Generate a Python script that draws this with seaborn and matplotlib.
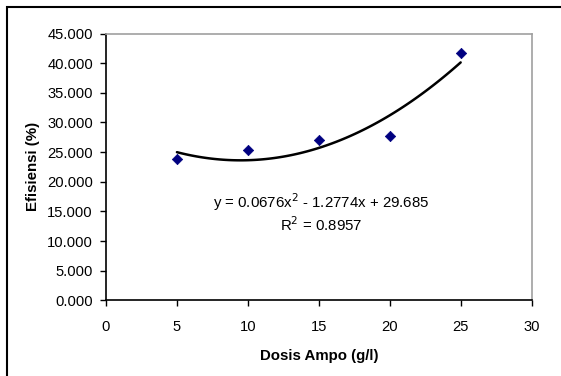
import matplotlib
matplotlib.use('Agg')

import matplotlib.pyplot as plt
import matplotlib.patches as mpatches
from matplotlib.ticker import FormatStrFormatter
import seaborn as sns
import pandas as pd
import numpy as np

# data
dosis = [5, 10, 15, 20, 25]
efisiensi = [23.9, 25.35, 27.03, 27.7, 41.65]
x_ticks = [0, 5, 10, 15, 20, 25, 30]
y_ticks = [0, 5, 10, 15, 20, 25, 30, 35, 40, 45]

df = pd.DataFrame({'dosis': dosis, 'efisiensi': efisiensi})

sns.set_style("white")
plt.rcParams['font.family'] = ['Liberation Sans', 'DejaVu Sans']
plt.rcParams['text.color'] = 'black'
plt.rcParams['axes.labelcolor'] = 'black'
plt.rcParams['xtick.color'] = 'black'
plt.rcParams['ytick.color'] = 'black'

fig = plt.figure(figsize=(5.61, 3.76), dpi=100)
ax = fig.add_axes([106/561, 1 - 300.3/376, (531.6-106)/561, (300.3-33.5)/376])

# polynomial trendline (order 2) like excel
coef = np.polyfit(df['dosis'], df['efisiensi'], 2)
xs = np.linspace(min(dosis), max(dosis), 100)
trend = pd.DataFrame({'x': xs, 'y': np.polyval(coef, xs)})
sns.lineplot(data=trend, x='x', y='y', ax=ax, color='black', linewidth=1.8)

sns.scatterplot(data=df, x='dosis', y='efisiensi', ax=ax, marker='D',
                color='#000080', s=28, edgecolor='#000080', linewidth=0.5, zorder=5)

ax.set_xlim(0, 30)
ax.set_ylim(0, 45)
ax.set_xticks(x_ticks)
ax.set_yticks(y_ticks)
ax.yaxis.set_major_formatter(FormatStrFormatter('%.3f'))
ax.tick_params(axis='both', direction='out', length=4, width=1, color='black',
               labelsize=10.6, bottom=True, left=True)
ax.tick_params(axis='x', pad=10)
ax.tick_params(axis='y', pad=5.4)

for side in ['left', 'bottom']:
    ax.spines[side].set_color('black')
    ax.spines[side].set_linewidth(1.2)
for side in ['top', 'right']:
    ax.spines[side].set_color('#a0a0a0')
    ax.spines[side].set_linewidth(1.2)

ax.set_xlabel('Dosis Ampo (g/l)', fontsize=10.8, fontweight='bold', labelpad=11)
ax.set_ylabel('Efisiensi (%)', fontsize=10.8, fontweight='bold', labelpad=5)

ax.text(0.505, 0.367, 'y = 0.0676x$^2$ - 1.2774x + 29.685', transform=ax.transAxes,
        ha='center', va='center', fontsize=10.8)
ax.text(0.505, 0.282, 'R$^2$ = 0.8957', transform=ax.transAxes,
        ha='center', va='center', fontsize=10.8)

# outer chart border
fig.patches.append(mpatches.Rectangle((7/561, -0.05), 1.1, 1 - 7/376 + 0.05,
                                      transform=fig.transFigure, fill=False,
                                      edgecolor='black', linewidth=1.5))

fig.savefig('out.png', dpi=100)
